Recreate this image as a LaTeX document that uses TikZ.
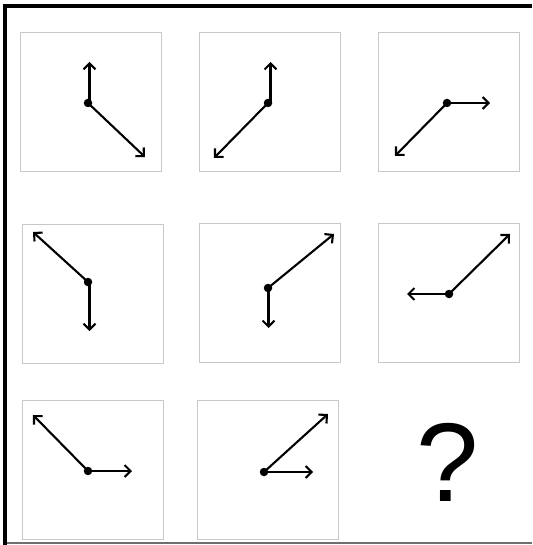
\documentclass[tikz,border=0pt]{standalone}
\usepackage{fontspec}
\newfontfamily\qfont{Liberation Sans}
\usepackage{xcolor}
\usepackage{tikz}
\usetikzlibrary{arrows.meta}
\definecolor{panelgray}{RGB}{200,200,200}
\definecolor{framegray}{RGB}{110,110,110}

\begin{document}
\begin{tikzpicture}[x=1pt, y=-1pt, >={Straight Barb[length=6pt,width=12pt]},
 panel/.style={draw=panelgray, line width=1pt, minimum width=141pt, minimum height=139pt, inner sep=0pt},
 pivot/.style={circle, fill=black, inner sep=0pt, minimum size=8.5pt},
 hand/.style={->, line width=2.1pt}]
\useasboundingbox (0,0) rectangle (532,545);
\draw[framegray, line width=1.6pt] (5,543) -- (532,543);
\draw[line width=3.2pt] (5,545) -- (5,6) -- (532,6);
\node[panel] (pa) at (90.5,102.5) {};
\node[panel] (pb) at (269.5,102.5) {};
\node[panel] (pc) at (448.5,102.5) {};
\node[panel] (pd) at (92.5,294) {};
\node[panel] (pe) at (269.5,293) {};
\node[panel] (pf) at (449,293) {};
\node[panel] (pg) at (92.5,470) {};
\node[panel] (ph) at (267.5,470) {};
\node (q) at (448,462.5) {\qfont\fontsize{112}{112}\selectfont ?};
\node[pivot] (da) at (88,103) {};
\node[pivot] (db) at (268,103) {};
\node[pivot] (dc) at (447,103) {};
\node[pivot] (dd) at (88,282) {};
\node[pivot] (de) at (268,288) {};
\node[pivot] (df) at (449,294) {};
\node[pivot] (dg) at (88,471) {};
\node[pivot] (dh) at (264,472) {};
\coordinate (ta1) at (89.5,62);
\coordinate (ta2) at (145,157);
\coordinate (tb1) at (270.5,62);
\coordinate (tb2) at (214,158);
\coordinate (tc1) at (490,103);
\coordinate (tc2) at (395,156);
\coordinate (td1) at (33,232);
\coordinate (td2) at (89.5,331);
\coordinate (te1) at (334,234);
\coordinate (te2) at (268.5,328);
\coordinate (tf1) at (407,294);
\coordinate (tf2) at (510,234);
\coordinate (tg1) at (33,415);
\coordinate (tg2) at (132,471);
\coordinate (th1) at (328,414);
\coordinate (th2) at (313,472);
\draw[hand] (da.center -| ta1)--(ta1);
\draw[hand] (da.center)--(ta2);
\draw[hand] (db.center -| tb1)--(tb1);
\draw[hand] (db.center)--(tb2);
\draw[hand] (dc.center)--(tc1);
\draw[hand] (dc.center)--(tc2);
\draw[hand] (dd.center)--(td1);
\draw[hand] (dd.center -| td2)--(td2);
\draw[hand] (de.center)--(te1);
\draw[hand] (de.center -| te2)--(te2);
\draw[hand] (df.center)--(tf1);
\draw[hand] (df.center)--(tf2);
\draw[hand] (dg.center)--(tg1);
\draw[hand] (dg.center)--(tg2);
\draw[hand] (dh.center)--(th1);
\draw[hand] (dh.center)--(th2);
\end{tikzpicture}
\end{document}
